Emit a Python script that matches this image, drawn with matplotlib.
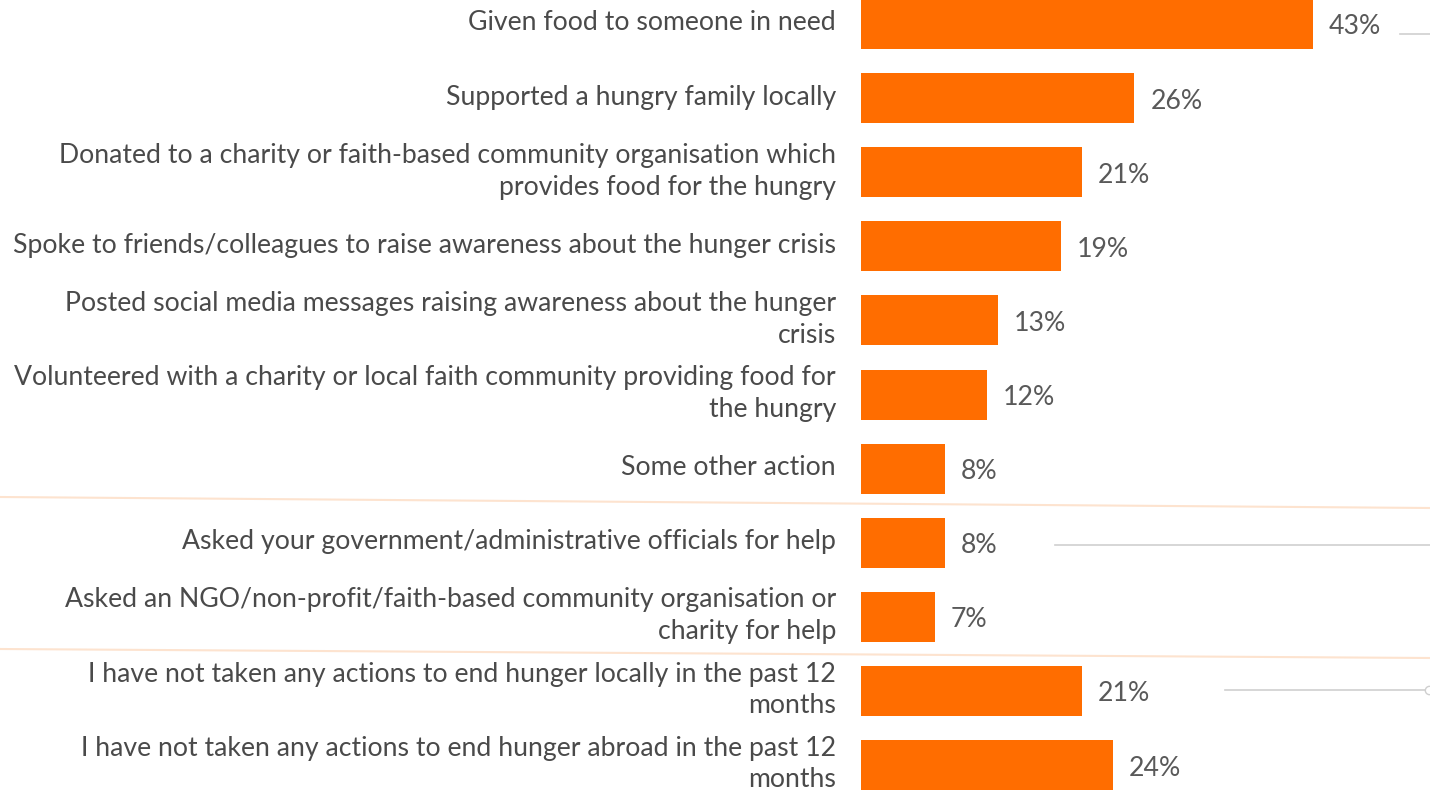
import matplotlib.pyplot as plt
from matplotlib.lines import Line2D

plt.rcParams["font.family"] = ["Lato", "DejaVu Sans"]

labels = [
    "Given food to someone in need",
    "Supported a hungry family locally",
    "Donated to a charity or faith-based community organisation which\nprovides food for the hungry",
    "Spoke to friends/colleagues to raise awareness about the hunger crisis",
    "Posted social media messages raising awareness about the hunger\ncrisis",
    "Volunteered with a charity or local faith community providing food for\nthe hungry",
    "Some other action",
    "Asked your government/administrative officials for help",
    "Asked an NGO/non-profit/faith-based community organisation or\ncharity for help",
    "I have not taken any actions to end hunger locally in the past 12\nmonths",
    "I have not taken any actions to end hunger abroad in the past 12\nmonths",
]
values = [43, 26, 21, 19, 13, 12, 8, 8, 7, 21, 24]

W, H = 1430, 792
fig = plt.figure(figsize=(W / 100, H / 100), dpi=100)
ax = fig.add_axes([861 / W, 0, 1 - 861 / W, 1])

step = 74.1
ys = list(range(len(values)))
ax.barh(ys, values, height=50 / step, color="#FF6D00", edgecolor="none")
ax.set_ylim((H - 24) / step, -24 / step)
ax.set_xlim(0, (W - 861) / 10.51)
ax.axis("off")

for y, v, lab in zip(ys, values, labels):
    ax.annotate(f"{v}%", xy=(v, y), xytext=(16, -3), textcoords="offset pixels",
                va="center", ha="left", fontsize=19.2, color="#595959")
    ax.annotate(lab, xy=(0, y), xytext=(-25, 1), textcoords="offset pixels",
                va="center", ha="right", fontsize=19.2, color="#4a4a4a",
                linespacing=1.33, annotation_clip=False)

# faint group separators
for y0, y1 in [(497, 508), (649, 658)]:
    fig.add_artist(Line2D([0, 1], [1 - y0 / H, 1 - y1 / H],
                          color="#FDE3CF", lw=1.5))

# leftover grey leader lines
for x0, y in [(1400, 34), (1055, 545), (1225, 690)]:
    fig.add_artist(Line2D([x0 / W, 1], [1 - y / H, 1 - y / H],
                          color="#CFCFCF", lw=1.2))
fig.add_artist(Line2D([1429 / W], [1 - 690 / H], marker="o", ms=6,
                      color="#CFCFCF", mfc="white"))

fig.savefig("out.png", dpi=100)
